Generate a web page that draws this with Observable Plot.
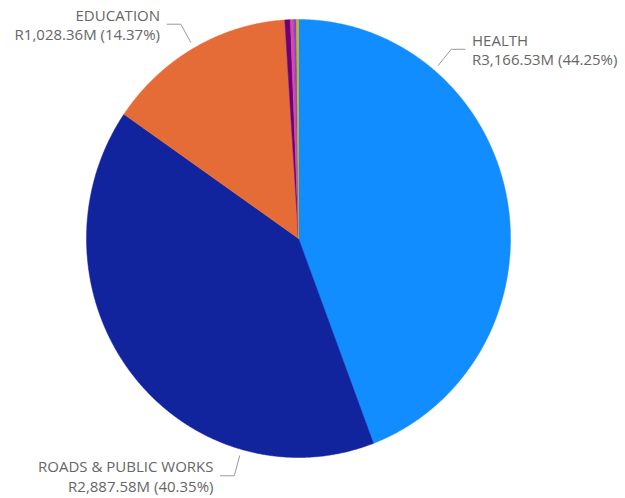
<!DOCTYPE html>
<html><head><meta charset="utf-8">
<script src="https://cdn.jsdelivr.net/npm/d3@7"></script>
<script src="https://cdn.jsdelivr.net/npm/@observablehq/plot@0.6"></script>
<style>body{margin:0;background:#fff;} #chart{width:625px;height:498px;}</style>
</head><body><div id="chart"></div>
<script>
// Data (R millions)
const categories = ["HEALTH", "ROADS & PUBLIC WORKS", "EDUCATION", "OTHER A", "OTHER B", "OTHER C", "OTHER D"];
const values = [3166.53, 2887.58, 1028.36, 30.00, 18.00, 15.00, 10.53];
const colors = ["#118DFF", "#12239E", "#E66C37", "#6B007B", "#E044A7", "#744EC2", "#D9B300"];
const labelledCategories = ["HEALTH", "ROADS & PUBLIC WORKS", "EDUCATION"];
const labelFraction = [0.25, 0.25, 0.5]; // where along each slice the leader line starts

const total = d3.sum(values);
const data = categories.map((c, i) => ({name: c, value: values[i]}));
const arcs = d3.pie().sort(null).value(d => d.value)(data);

// slice polygons in unit-circle data space (y up, clockwise from top)
const slicePts = [];
for (const a of arcs) {
  const n = Math.max(3, Math.ceil((a.endAngle - a.startAngle) / 0.005));
  slicePts.push({name: a.data.name, x: 0, y: 0});
  for (let k = 0; k <= n; k++) {
    const t = a.startAngle + (a.endAngle - a.startAngle) * k / n;
    slicePts.push({name: a.data.name, x: Math.sin(t), y: Math.cos(t)});
  }
  slicePts.push({name: a.data.name, x: 0, y: 0});
}

// leader lines and labels
const fmt = d3.format(",.2f");
const leaderPts = [];
const labels = [];
labelledCategories.forEach((c, i) => {
  const a = arcs.find(d => d.data.name === c);
  const t = a.startAngle + (a.endAngle - a.startAngle) * labelFraction[i];
  const side = Math.sin(t) >= 0 ? 1 : -1;
  const p0 = {x: 1.03 * Math.sin(t), y: 1.03 * Math.cos(t)};
  const p1 = {x: 1.125 * Math.sin(t), y: 1.125 * Math.cos(t)};
  const p2 = {x: p1.x + side * 0.065, y: p1.y};
  leaderPts.push({name: c, ...p0}, {name: c, ...p1}, {name: c, ...p2});
  const v = a.data.value;
  labels.push({
    name: c, x: p2.x, y: p2.y, side,
    text: `${c}\nR${fmt(v)}M (${(v / total * 100).toFixed(2)}%)`
  });
});

const chart = Plot.plot({
  width: 625,
  height: 498,
  margin: 0,
  style: {background: "#fff", fontFamily: "'Segoe UI', 'Open Sans', sans-serif"},
  x: {domain: [-1, 1], range: [86, 510], axis: null},
  y: {domain: [-1, 1], range: [457, 19], axis: null},
  color: {domain: categories, range: colors},
  marks: [
    Plot.line(slicePts, {x: "x", y: "y", z: "name", fill: "name", stroke: "name", strokeWidth: 0.5, curve: "linear"}),
    Plot.line(leaderPts, {x: "x", y: "y", z: "name", stroke: "#9a9a9a", strokeWidth: 1}),
    Plot.text(labels.filter(d => d.side > 0), {x: "x", y: "y", text: "text", textAnchor: "start", dx: 7, lineAnchor: "middle", lineHeight: 1.3, fontSize: 15, fill: "#666"}),
    Plot.text(labels.filter(d => d.side < 0), {x: "x", y: "y", text: "text", textAnchor: "end", dx: -7, lineAnchor: "middle", lineHeight: 1.3, fontSize: 15, fill: "#666"})
  ]
});
document.getElementById("chart").appendChild(chart);
</script>
</body></html>
